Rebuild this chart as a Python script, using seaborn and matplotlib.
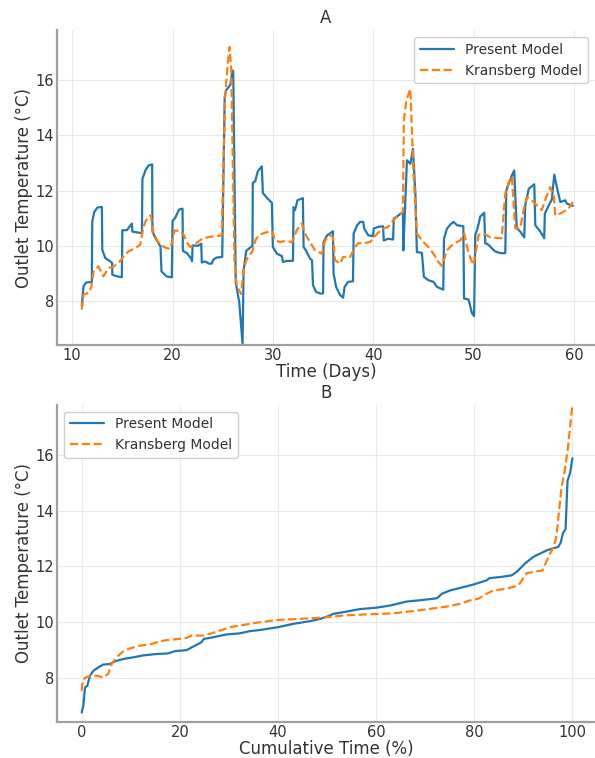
import matplotlib
matplotlib.use("Agg")
import matplotlib.pyplot as plt
import pandas as pd
import seaborn as sns

# --- Panel A : outlet temperature time series ---
present_days = [
    10.96, 11.13, 11.4, 11.96, 12.0, 12.2, 12.52, 12.96, 13.0, 13.3,
    13.8, 13.98, 14.0, 14.45, 14.95, 15.0, 15.45, 15.95, 16.0, 16.95,
    17.0, 17.3, 17.6, 17.97, 18.0, 18.3, 18.8, 18.9, 19.4, 19.93,
    20.0, 20.27, 20.66, 21.0, 21.03, 21.43, 21.86, 21.95, 22.0, 22.5,
    22.86, 22.92, 23.26, 23.6, 23.9, 24.1, 24.4, 24.95, 25.2, 25.35,
    25.75, 25.98, 26.05, 26.3, 26.65, 26.98, 27.08, 27.34, 27.74, 27.97,
    28.0, 28.24, 28.5, 28.9, 29.0, 29.4, 29.9, 30.0, 30.4, 30.9,
    31.0, 31.4, 32.0, 32.06, 32.2, 32.45, 32.99, 33.06, 33.3, 33.7,
    33.9, 34.0, 34.3, 34.7, 35.0, 35.05, 35.4, 35.98, 36.05, 36.3,
    36.7, 37.0, 37.15, 37.5, 37.98, 38.05, 38.4, 38.7, 39.0, 39.1,
    39.5, 39.98, 40.05, 40.5, 40.98, 41.05, 41.5, 41.98, 42.05, 42.5,
    42.96, 43.0, 43.36, 43.7, 43.96, 44.2, 44.35, 44.85, 45.05, 45.5,
    46.0, 46.35, 46.98, 47.05, 47.35, 47.7, 48.0, 48.35, 48.98, 49.05,
    49.5, 49.83, 50.05, 50.17, 50.4, 50.66, 51.06, 51.16, 51.5, 51.8,
    52.16, 52.66, 53.16, 53.26, 53.5, 53.82, 54.05, 54.3, 54.65, 55.05,
    55.15, 55.5, 56.05, 56.15, 56.65, 57.04, 57.1, 57.5, 57.8, 58.04,
    58.37, 58.64, 59.14, 59.3, 59.9,
]
present_temp = [
    7.82, 8.54, 8.68, 8.69, 10.87, 11.23, 11.39, 11.41, 9.86, 9.56,
    9.44, 9.38, 8.96, 8.9, 8.87, 10.57, 10.57, 10.81, 10.52, 10.46,
    12.43, 12.73, 12.91, 12.95, 10.52, 10.28, 9.98, 9.08, 8.9, 8.86,
    10.9, 11.02, 11.32, 11.35, 9.82, 9.74, 9.54, 9.45, 10.02, 10.0,
    10.08, 9.4, 9.44, 9.36, 9.36, 9.52, 9.58, 9.6, 15.4, 15.64,
    15.82, 16.35, 16.3, 8.68, 7.96, 6.45, 9.1, 9.82, 9.94, 10.0,
    12.28, 12.34, 12.7, 12.88, 11.92, 11.74, 11.56, 9.96, 9.72, 9.63,
    9.42, 9.46, 9.46, 11.4, 11.29, 11.65, 11.73, 9.96, 9.84, 9.54,
    9.48, 8.58, 8.34, 8.28, 8.28, 10.14, 10.38, 10.53, 9.0, 8.52,
    8.22, 8.13, 8.52, 8.7, 8.72, 10.45, 10.75, 10.87, 10.87, 10.63,
    10.39, 10.35, 10.63, 10.69, 10.71, 10.2, 10.26, 10.23, 10.99, 11.1,
    11.23, 9.84, 13.1, 12.97, 13.51, 11.89, 9.78, 9.75, 8.88, 8.76,
    8.7, 8.52, 8.42, 10.26, 10.63, 10.78, 10.87, 10.75, 10.71, 8.1,
    8.06, 7.58, 7.46, 10.4, 10.64, 11.06, 11.2, 10.1, 10.04, 9.92,
    9.8, 9.74, 9.74, 12.0, 12.25, 12.55, 12.73, 10.64, 10.52, 10.31,
    11.47, 12.07, 12.23, 10.75, 10.52, 10.28, 11.17, 11.47, 11.68, 12.58,
    12.01, 11.59, 11.65, 11.53, 11.45,
]

kransberg_days = [
    10.96, 11.13, 11.63, 11.9, 12.13, 12.62, 13.12, 13.62, 14.12, 14.62,
    15.12, 15.61, 16.28, 16.78, 17.04, 17.28, 17.6, 17.84, 18.1, 18.44,
    18.77, 19.4, 19.8, 20.2, 20.8, 21.15, 21.5, 21.8, 22.3, 22.95,
    23.6, 24.26, 24.9, 25.25, 25.5, 25.68, 25.85, 26.18, 26.4, 26.84,
    27.08, 27.4, 27.97, 28.3, 28.74, 29.24, 29.9, 30.23, 30.73, 31.23,
    31.9, 32.4, 32.9, 33.2, 33.7, 34.2, 34.9, 35.2, 35.7, 35.98,
    36.2, 36.7, 37.0, 37.7, 38.2, 38.5, 39.0, 39.7, 40.4, 41.0,
    41.5, 42.0, 42.5, 42.96, 43.05, 43.3, 43.7, 44.0, 44.35, 44.85,
    45.5, 46.0, 46.5, 46.85, 47.35, 48.0, 48.67, 49.07, 49.5, 50.0,
    50.5, 51.0, 51.66, 52.8, 53.16, 53.5, 53.82, 54.15, 54.65, 54.98,
    55.3, 55.8, 56.3, 56.8, 57.3, 57.64, 58.0, 58.14, 58.64, 59.47,
    59.9,
]
kransberg_temp = [
    7.7, 8.24, 8.3, 8.5, 9.08, 9.26, 8.9, 9.2, 9.26, 9.38,
    9.62, 9.8, 9.92, 10.04, 10.57, 10.87, 11.05, 11.11, 10.46, 10.22,
    10.04, 9.92, 9.9, 10.56, 10.54, 10.38, 10.08, 9.96, 10.08, 10.26,
    10.32, 10.35, 10.38, 15.4, 16.6, 17.2, 16.4, 9.4, 8.56, 8.26,
    9.16, 9.52, 9.82, 10.24, 10.42, 10.48, 10.54, 10.2, 10.14, 10.18,
    10.14, 10.59, 10.81, 10.45, 10.14, 9.84, 9.72, 10.2, 10.38, 10.32,
    9.48, 9.36, 9.6, 9.6, 9.96, 10.1, 10.1, 10.14, 10.45, 10.63,
    10.69, 10.93, 11.1, 11.23, 14.54, 15.26, 15.68, 12.73, 10.45, 10.2,
    9.96, 9.72, 9.42, 9.27, 9.84, 10.08, 10.2, 10.45, 9.72, 9.3,
    10.4, 10.46, 10.31, 10.28, 11.9, 12.3, 12.5, 10.64, 10.64, 11.3,
    11.77, 11.65, 11.47, 11.3, 11.83, 12.13, 11.77, 11.11, 11.17, 11.35,
    11.59,
]

# --- Panel B : duration curves (sorted temperatures) ---
present_pct = [
    0, 0.34, 0.68, 1.15, 1.7, 2.4, 3.4, 4.4, 5.8, 6.8,
    8.5, 10.5, 12.6, 15.3, 17.6, 19.0, 21.4, 23.1, 24.4, 24.9,
    26.8, 29.5, 32.2, 34.3, 36.3, 40.0, 43.1, 46.6, 48.6, 50.0,
    51.3, 53.3, 56.7, 60.0, 62.9, 66.2, 69.6, 72.4, 73.4, 75.1,
    77.8, 79.8, 82.5, 83.1, 85.3, 87.6, 88.6, 89.3, 90.3, 92.0,
    93.4, 94.8, 96.1, 97.1, 97.6, 98.1, 98.6, 99.0, 99.5, 100,
]
present_sorted = [
    6.76, 7.0, 7.66, 7.72, 8.08, 8.26, 8.38, 8.48, 8.5, 8.6,
    8.68, 8.74, 8.81, 8.86, 8.88, 8.96, 9.0, 9.16, 9.28, 9.4,
    9.46, 9.56, 9.6, 9.68, 9.72, 9.82, 9.94, 10.04, 10.12, 10.2,
    10.3, 10.36, 10.47, 10.52, 10.6, 10.74, 10.8, 10.86, 11.02, 11.14,
    11.26, 11.35, 11.5, 11.58, 11.62, 11.68, 11.8, 11.92, 12.1, 12.34,
    12.46, 12.58, 12.65, 12.7, 12.85, 13.21, 13.33, 15.07, 15.34, 15.88,
]
kransberg_pct = [
    0, 0.2, 0.7, 1.7, 3.05, 4.4, 5.4, 6.1, 7.1, 8.5,
    9.85, 11.9, 13.9, 15.3, 17.3, 19.35, 21.4, 22.4, 24.8, 26.5,
    28.2, 30.2, 32.2, 34.3, 36.3, 40.0, 44.5, 50.0, 53.3, 58.1,
    63.5, 67.6, 71.0, 74.4, 77.1, 79.1, 80.8, 82.5, 83.9, 86.6,
    89.0, 89.7, 90.7, 93.9, 95.4, 96.1, 96.7, 97.8, 98.4, 99.1,
    100,
]
kransberg_sorted = [
    7.54, 7.9, 8.0, 8.08, 8.08, 8.02, 8.14, 8.5, 8.74, 8.96,
    9.06, 9.16, 9.2, 9.28, 9.36, 9.39, 9.44, 9.52, 9.52, 9.6,
    9.7, 9.82, 9.88, 9.94, 10.0, 10.08, 10.12, 10.18, 10.24, 10.28,
    10.32, 10.4, 10.48, 10.56, 10.66, 10.78, 10.84, 11.02, 11.14, 11.2,
    11.32, 11.5, 11.76, 11.86, 12.45, 12.67, 13.03, 14.86, 15.4, 16.27,
    17.8,
]

BLUE = "#1f77b4"
ORANGE = "#ff7f0e"
SPINE = "#a0a0a0"
TEXT = "#333333"
LW = 1.6

sns.set_theme(style="whitegrid")
plt.rcParams["font.family"] = ["DejaVu Sans"]

fig = plt.figure(figsize=(5.95, 7.58), dpi=100)
ax_a = fig.add_axes([0.096, 0.545, 0.904, 0.415])
ax_b = fig.add_axes([0.096, 0.0475, 0.904, 0.4185])

df_a1 = pd.DataFrame({"day": present_days, "temp": present_temp})
df_a2 = pd.DataFrame({"day": kransberg_days, "temp": kransberg_temp})
sns.lineplot(data=df_a1, x="day", y="temp", ax=ax_a, color=BLUE, linewidth=LW,
             estimator=None, sort=False, label="Present Model")
sns.lineplot(data=df_a2, x="day", y="temp", ax=ax_a, color=ORANGE, linewidth=LW,
             linestyle="--", estimator=None, sort=False, label="Kransberg Model")

df_b1 = pd.DataFrame({"pct": present_pct, "temp": present_sorted})
df_b2 = pd.DataFrame({"pct": kransberg_pct, "temp": kransberg_sorted})
sns.lineplot(data=df_b1, x="pct", y="temp", ax=ax_b, color=BLUE, linewidth=LW,
             estimator=None, sort=False, label="Present Model")
sns.lineplot(data=df_b2, x="pct", y="temp", ax=ax_b, color=ORANGE, linewidth=LW,
             linestyle="--", estimator=None, sort=False, label="Kransberg Model")

ax_a.set_xlim(8.5, 62.1)
ax_b.set_xlim(-5, 104.6)
for ax, title, xlabel, loc in [(ax_a, "A", "Time (Days)", "upper right"),
                               (ax_b, "B", "Cumulative Time (%)", "upper left")]:
    ax.set_ylim(6.42, 17.8)
    ax.set_yticks([8, 10, 12, 14, 16])
    ax.set_title(title, fontsize=12, color=TEXT, pad=5)
    ax.set_xlabel(xlabel, fontsize=12, color=TEXT, labelpad=0)
    ax.set_ylabel("Outlet Temperature (°C)", fontsize=12, color=TEXT, labelpad=2)
    ax.tick_params(length=0, labelsize=10.5, labelcolor=TEXT, pad=2)
    ax.grid(True, color="#e8e8e8", linewidth=0.8)
    sns.despine(ax=ax)
    for side in ("left", "bottom"):
        ax.spines[side].set_color(SPINE)
        ax.spines[side].set_linewidth(1.6)
    leg = ax.legend(loc=loc, fontsize=10, frameon=True, edgecolor="#d0d0d0",
                    facecolor="white", framealpha=1.0, handlelength=2.5)
    for t in leg.get_texts():
        t.set_color(TEXT)

fig.savefig("out.png", dpi=100)
